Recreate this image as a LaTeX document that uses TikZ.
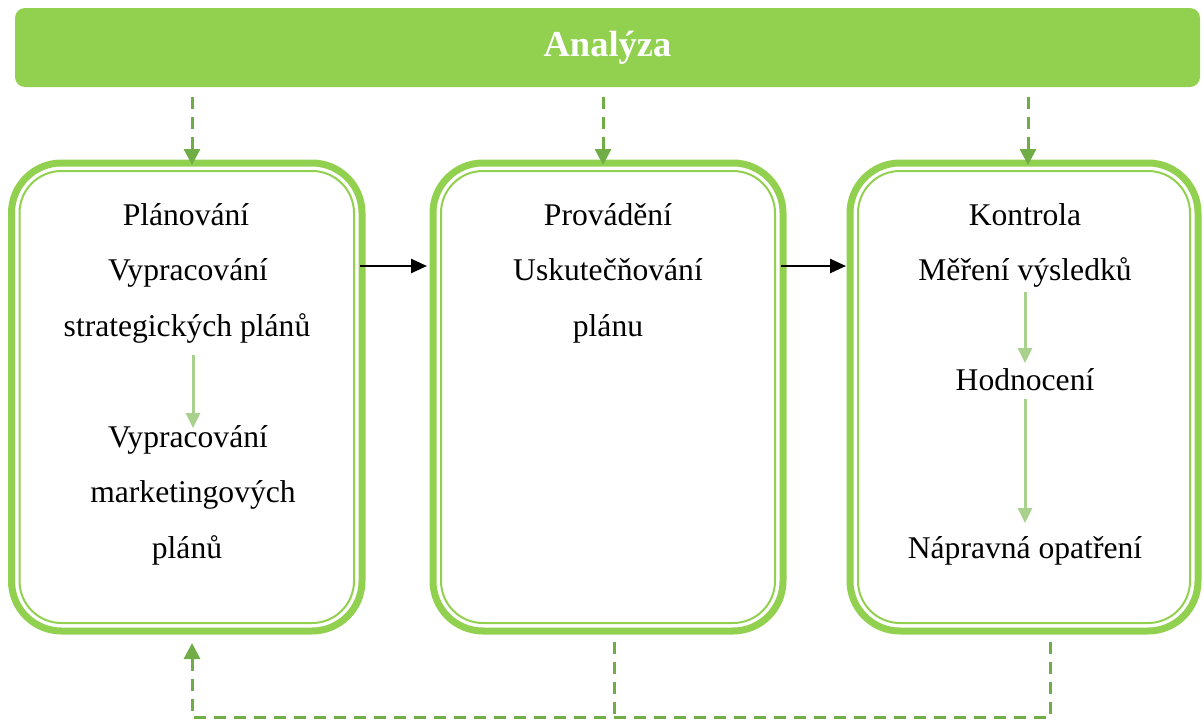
\documentclass[tikz,border=0pt]{standalone}
\usepackage{fontspec}
\setmainfont{Liberation Serif}
\usetikzlibrary{arrows.meta}
\definecolor{leaf}{HTML}{92D050}
\definecolor{moss}{HTML}{70AD47}
\definecolor{sage}{HTML}{A9D18E}
\begin{document}
\begin{tikzpicture}[x=1pt,y=-1pt,
  headbar/.style={fill=leaf, draw=none, rounded corners=10pt, minimum width=1185pt,
    minimum height=79pt, inner sep=0pt, text=white, font=\fontsize{36.5}{42}\selectfont\bfseries},
  stage/.style={draw=leaf, line width=7pt, rounded corners=50pt, minimum width=#1,
    minimum height=468pt, inner sep=0pt, outer sep=0pt},
  innerline/.style={draw=leaf, line width=2pt, rounded corners=42pt},
  label/.style={anchor=base, inner sep=0pt, font=\fontsize{31.6}{38}\selectfont},
  flow/.style={draw=black, line width=2.4pt, -{Triangle[length=16pt,width=14pt]}},
  feed/.style={draw=moss, line width=3pt, dash pattern=on 12pt off 8pt},
  feedarrow/.style={feed, -{Triangle[length=16pt,width=16pt]}},
  substep/.style={draw=sage, line width=3pt, -{Triangle[length=15pt,width=14pt]}}
]
\useasboundingbox (0,0) rectangle (1204,720);

% header bar
\node[headbar] (top) at (607.5,47.5) {Analýza};

% three stages with a thick outer and a thin inner outline
\node[stage=350.5pt] (b1) at (186.75,397) {};
\node[stage=350pt]   (b2) at (608,397) {};
\node[stage=348pt]   (b3) at (1024,397) {};
\foreach \b in {b1,b2,b3}
  \draw[innerline] ([xshift=8pt,yshift=-8pt]\b.north west) rectangle ([xshift=-8pt,yshift=8pt]\b.south east);

% texts of the first stage
\node[label] (p1) at (186,225) {Plánování};
\node[label] (p2) at (188,280) {Vypracování};
\node[label] (p3) at (187,336) {strategických plánů};
\node[label] (p4) at (188,447) {Vypracování};
\node[label] (p5) at (193,502) {marketingových};
\node[label] (p6) at (187,558) {plánů};

% texts of the second stage
\node[label] (q1) at (608,225) {Provádění};
\node[label] (q2) at (608,280) {Uskutečňování};
\node[label] (q3) at (608,336) {plánu};

% texts of the third stage
\node[label] (r1) at (1025,225) {Kontrola};
\node[label] (r2) at (1025,280) {Měření výsledků};
\node[label] (r3) at (1025,390) {Hodnocení};
\node[label] (r4) at (1025,558) {Nápravná opatření};

% columns of the connectors
\coordinate (c1) at (192,0);
\coordinate (c2) at (603,0);
\coordinate (c3) at (1028,0);
\coordinate (d2) at (614,0);
\coordinate (d3) at (1050,0);
\coordinate (base) at (0,717.5);

% from the header down to each stage
\draw[feedarrow, shorten <=10pt, shorten >=-2pt] (top.south -| c1) -- (b1.north -| c1);
\draw[feedarrow, shorten <=10pt, shorten >=-2pt] (top.south -| c2) -- (b2.north -| c2);
\draw[feedarrow, shorten <=10pt, shorten >=-2pt] (top.south -| c3) -- (b3.north -| c3);

% sequence between the stages
\coordinate (lvl) at (0,266);
\draw[flow, shorten <=-2pt, shorten >=6pt] (b1.east |- lvl) -- (b2.west |- lvl);
\draw[flow, shorten <=-2pt, shorten >=4pt] (b2.east |- lvl) -- (b3.west |- lvl);

% steps inside the stages
\coordinate (s1a) at (193,355);
\coordinate (s1b) at (193,428);
\coordinate (s3a) at (1025,292);
\coordinate (s3b) at (1025,363);
\coordinate (s3c) at (1025,399);
\coordinate (s3d) at (1025,523);
\draw[substep] (s1a) -- (s1b);
\draw[substep] (s3a) -- (s3b);
\draw[substep] (s3c) -- (s3d);

% feedback loop back to planning
\draw[feed, shorten <=11pt] (b2.south -| d2) -- (base -| d2);
\draw[feedarrow, shorten <=11pt, shorten >=12pt] (b3.south -| d3) -- (base -| d3) -- (base -| c1) -- (b1.south -| c1);
\end{tikzpicture}
\end{document}
